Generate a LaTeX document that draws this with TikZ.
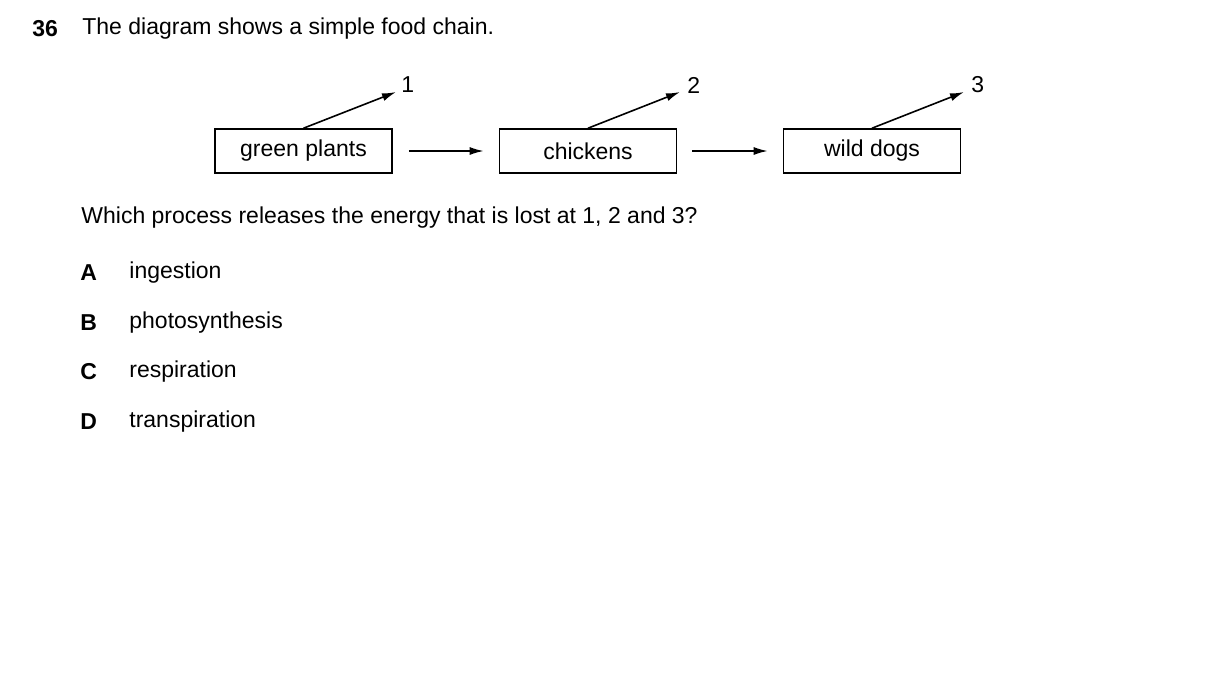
\documentclass[tikz,border=0pt]{standalone}
\usepackage{fontspec}
\setmainfont{Liberation Sans}
\usetikzlibrary{arrows.meta}
\tikzset{
  box/.style={draw, thick, minimum width=88.5pt, minimum height=22pt, inner sep=0pt, font=\fontsize{11.5}{13}\selectfont},
  txt/.style={anchor=west, inner sep=0pt, font=\fontsize{11.5}{13}\selectfont},
  flow/.style={thick, -{Latex[length=7pt,width=4pt]}}
}
\begin{document}
\begin{tikzpicture}[x=0.5pt, y=-0.5pt]
  \useasboundingbox (0,0) rectangle (1209,697);
  % question
  \node[txt, font=\fontsize{11.5}{13}\bfseries\selectfont] (num) at (32,29) {36};
  \node[txt] (title) at (82,29) {The diagram shows a simple food chain.};

  % food chain
  \node[box] (plants) at (303.5,151) {green plants};
  \node[box] (chickens) at (588,151) {chickens};
  \node[box] (dogs) at (872,151) {wild dogs};

  \coordinate (l1) at (396,92);
  \coordinate (l2) at (680,92);
  \coordinate (l3) at (964,92);
  \node[txt] (n1) at (401,85) {1};
  \node[txt] (n2) at (687,85) {2};
  \node[txt] (n3) at (971,85) {3};
  \draw[flow] (plants.north) -- (l1);
  \draw[flow] (chickens.north) -- (l2);
  \draw[flow] (dogs.north) -- (l3);

  \draw[flow] ([xshift=8pt]plants.east) -- ([xshift=-7.5pt]chickens.west);
  \draw[flow] ([xshift=7.5pt]chickens.east) -- ([xshift=-7.5pt]dogs.west);

  % options
  \node[txt] (q) at (81,218) {Which process releases the energy that is lost at 1, 2 and 3?};
  \foreach \l/\t/\y [count=\i] in {A/ingestion/273, B/photosynthesis/323, C/respiration/372, D/transpiration/422} {
    \node[txt, font=\fontsize{11.5}{13}\bfseries\selectfont] (opt\i) at (80,\y) {\l};
    \node[txt] (ans\i) at (129,\y) {\t};
  }
\end{tikzpicture}
\end{document}
